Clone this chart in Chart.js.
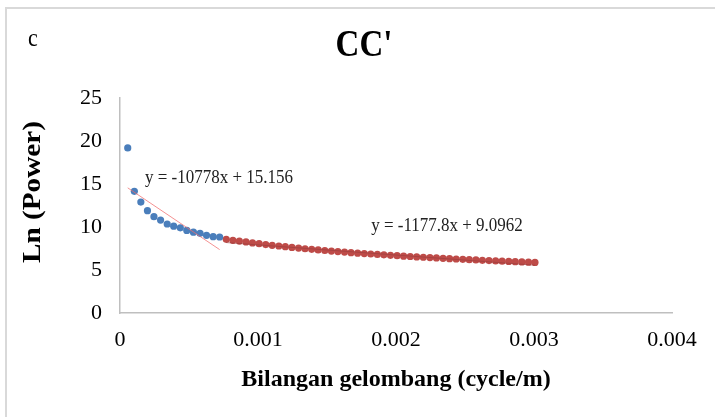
<!DOCTYPE html>
<html>
<head>
<meta charset="utf-8">
<script src="https://cdn.jsdelivr.net/npm/chart.js@4.4.1/dist/chart.umd.min.js"></script>
<style>
  body { margin: 0; background: #fff; overflow: hidden; }
  #wrap { position: relative; width: 715px; height: 417px; }
  #frame { position: absolute; left: 5px; top: 7px; width: 760px; height: 460px; border: 2px solid #d9d9d9; box-sizing: border-box; }
  canvas { position: absolute; left: 0; top: 0; }
</style>
</head>
<body>
<div id="wrap">
  <div id="frame"></div>
  <canvas id="grafik" width="715" height="417"></canvas>
</div>
<script>
// bilangan gelombang (cycle/m) dan ln(power)
const xBiru = [0.000056, 0.000104, 0.000151, 0.000199, 0.000246, 0.000294, 0.000342, 0.000389,
  0.000437, 0.000484, 0.000532, 0.000580, 0.000627, 0.000675, 0.000722];
const yBiru = [19.2, 14.15, 12.9, 11.9, 11.2, 10.8, 10.35, 10.1,
  9.9, 9.6, 9.4, 9.27, 9.03, 8.87, 8.84];

const xMerah = [0.000770, 0.000818, 0.000865, 0.000913, 0.000960, 0.001008, 0.001056, 0.001103,
  0.001151, 0.001198, 0.001246, 0.001294, 0.001341, 0.001389, 0.001436, 0.001484,
  0.001532, 0.001579, 0.001627, 0.001674, 0.001722, 0.001770, 0.001817, 0.001865,
  0.001912, 0.001960, 0.002008, 0.002055, 0.002103, 0.002150, 0.002198, 0.002246,
  0.002293, 0.002341, 0.002388, 0.002436, 0.002484, 0.002531, 0.002579, 0.002626,
  0.002674, 0.002722, 0.002769, 0.002817, 0.002864, 0.002912, 0.002960, 0.003007];
const yMerah = [8.57, 8.45, 8.36, 8.26, 8.15, 8.06, 7.96, 7.87,
  7.79, 7.71, 7.63, 7.55, 7.47, 7.40, 7.33, 7.27,
  7.20, 7.14, 7.08, 7.02, 6.96, 6.91, 6.86, 6.81,
  6.76, 6.71, 6.66, 6.61, 6.57, 6.52, 6.48, 6.44,
  6.40, 6.36, 6.32, 6.28, 6.24, 6.20, 6.17, 6.13,
  6.10, 6.06, 6.03, 6.00, 5.97, 5.94, 5.91, 5.88];

// garis trend (dari persamaan di grafik)
const trendBiru = { slope: -10778, intercept: 15.156, label: 'y = -10778x + 15.156' };
const trendMerah = { slope: -1177.8, intercept: 9.0962, label: 'y = -1177.8x + 9.0962' };

const xTicks = ['0', '0.001', '0.002', '0.003', '0.004'];
const yTicks = ['0', '5', '10', '15', '20', '25'];

function titik(xs, ys) {
  return xs.map((x, i) => ({ x: x, y: ys[i] }));
}
function garis(t, x0, x1) {
  return [{ x: x0, y: t.slope * x0 + t.intercept }, { x: x1, y: t.slope * x1 + t.intercept }];
}

const serif = "'Liberation Serif', 'Times New Roman', serif";

// tulis teks yang sedikit ditarik memanjang (huruf di gambar asli lebih tinggi)
function tulis(ctx, teks, x, y, rot, tarik) {
  ctx.save();
  ctx.translate(x, y);
  ctx.rotate(rot);
  ctx.scale(1, tarik);
  ctx.fillText(teks, 0, 0);
  ctx.restore();
}

// teks tambahan: judul, huruf c, judul sumbu y, persamaan
const teksPlugin = {
  id: 'teks',
  afterDatasetsDraw(chart) {
    const ctx = chart.ctx;
    const sx = chart.scales.x, sy = chart.scales.y;
    ctx.save();
    ctx.fillStyle = '#000';
    ctx.textBaseline = 'middle';
    ctx.textAlign = 'center';
    ctx.font = 'bold 33px ' + serif;
    tulis(ctx, "CC'", 364, 46, 0, 1.15);
    ctx.font = 'bold 25px ' + serif;
    ctx.save();
    ctx.translate(33, 192);
    ctx.rotate(-Math.PI / 2);
    ctx.scale(1.17, 1.05);
    ctx.fillText('Ln (Power)', 0, 0);
    ctx.restore();
    ctx.textAlign = 'left';
    ctx.font = '22px ' + serif;
    tulis(ctx, 'c', 28, 39, 0, 1.15);
    ctx.font = '17px ' + serif;
    ctx.fillStyle = '#222';
    tulis(ctx, trendBiru.label, sx.getPixelForValue(0.000181), sy.getPixelForValue(15.7), 0, 1.1);
    tulis(ctx, trendMerah.label, sx.getPixelForValue(0.00182), sy.getPixelForValue(10.1), 0, 1.1);
    ctx.restore();
  }
};

const ctx = document.getElementById('grafik').getContext('2d');
const chart = new Chart(ctx, {
  type: 'scatter',
  data: {
    datasets: [
      {
        type: 'line',
        label: 'trend biru',
        data: garis(trendBiru, xBiru[0], xBiru[xBiru.length - 1]),
        borderColor: 'rgba(240,110,110,0.75)',
        borderWidth: 1,
        pointRadius: 0,
        fill: false
      },
      {
        type: 'line',
        label: 'trend merah',
        data: garis(trendMerah, xMerah[0], xMerah[xMerah.length - 1]),
        borderColor: 'rgba(150,60,60,0.6)',
        borderWidth: 1,
        pointRadius: 0,
        fill: false
      },
      {
        label: 'biru',
        data: titik(xBiru, yBiru),
        backgroundColor: '#4a7ebb',
        borderWidth: 0,
        pointRadius: 3.6
      },
      {
        label: 'merah',
        data: titik(xMerah, yMerah),
        backgroundColor: '#be4b48',
        borderWidth: 0,
        pointRadius: 3.6
      }
    ]
  },
  options: {
    responsive: false,
    animation: false,
    events: [],
    layout: { padding: { top: 98, left: 0, right: 43, bottom: 0 } },
    plugins: { legend: { display: false }, tooltip: { enabled: false }, title: { display: false } },
    scales: {
      x: {
        type: 'linear',
        min: 0, max: 0.004,
        afterFit(s) { s.height = 104; },
        grid: { display: false, drawTicks: false },
        border: { display: true, color: '#bfbfbf', width: 1.5 },
        ticks: {
          stepSize: 0.001,
          padding: 14,
          color: '#000',
          font: { family: serif, size: 22 },
          maxRotation: 0,
          callback: (v, i) => xTicks[i]
        },
        title: {
          display: true,
          text: 'Bilangan gelombang (cycle/m)',
          color: '#000',
          font: { family: serif, size: 24, weight: 'bold' },
          padding: { top: 0, bottom: 23 }
        }
      },
      y: {
        min: 0, max: 25,
        afterFit(s) { s.width = 120; },
        grid: { display: false, drawTicks: false },
        border: { display: true, color: '#bfbfbf', width: 1.5 },
        ticks: {
          stepSize: 5,
          padding: 18,
          color: '#000',
          font: { family: serif, size: 22 },
          callback: (v, i) => yTicks[i]
        },
        title: { display: false }
      }
    }
  },
  plugins: [teksPlugin]
});
</script>
</body>
</html>
